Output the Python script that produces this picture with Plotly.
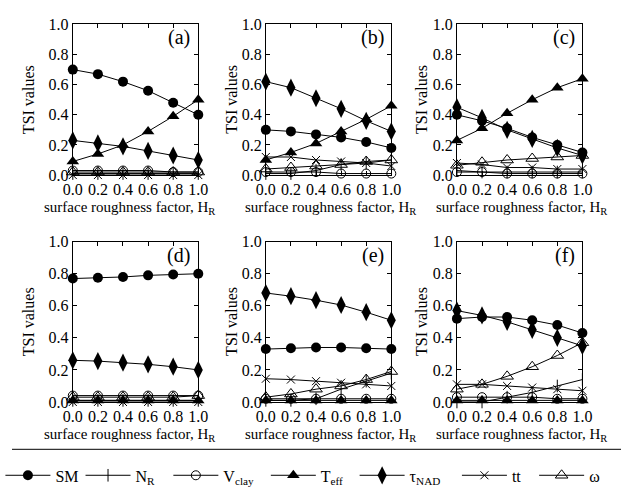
import plotly.graph_objects as go

# Surface roughness factor values (x axis, shared by every panel)
HR = [0.0, 0.2, 0.4, 0.6, 0.8, 1.0]

# Panel (a)
SM_a = [0.70, 0.67, 0.62, 0.56, 0.48, 0.40]
NR_a = [0.01, 0.01, 0.01, 0.01, 0.01, 0.01]
Vclay_a = [0.03, 0.03, 0.03, 0.03, 0.02, 0.02]
Teff_a = [0.09, 0.14, 0.20, 0.29, 0.39, 0.50]
tau_a = [0.23, 0.21, 0.19, 0.16, 0.13, 0.10]
tt_a = [0.00, 0.00, 0.00, 0.00, 0.00, 0.00]
omega_a = [0.02, 0.02, 0.02, 0.02, 0.02, 0.02]

# Panel (b)
SM_b = [0.30, 0.29, 0.27, 0.25, 0.22, 0.18]
NR_b = [0.01, 0.01, 0.03, 0.07, 0.08, 0.10]
Vclay_b = [0.02, 0.02, 0.02, 0.01, 0.01, 0.01]
Teff_b = [0.10, 0.15, 0.21, 0.29, 0.37, 0.46]
tau_b = [0.62, 0.58, 0.51, 0.44, 0.36, 0.29]
tt_b = [0.12, 0.12, 0.10, 0.09, 0.08, 0.06]
omega_b = [0.04, 0.05, 0.06, 0.07, 0.09, 0.10]

# Panel (c)
SM_c = [0.40, 0.36, 0.31, 0.25, 0.20, 0.15]
NR_c = [0.03, 0.02, 0.02, 0.02, 0.02, 0.02]
Vclay_c = [0.02, 0.02, 0.01, 0.01, 0.01, 0.01]
Teff_c = [0.23, 0.31, 0.41, 0.50, 0.58, 0.64]
tau_c = [0.45, 0.38, 0.30, 0.24, 0.18, 0.13]
tt_c = [0.08, 0.07, 0.05, 0.05, 0.04, 0.04]
omega_c = [0.065, 0.085, 0.10, 0.11, 0.12, 0.13]

# Panel (d)
SM_d = [0.77, 0.775, 0.78, 0.79, 0.795, 0.80]
NR_d = [0.01, 0.01, 0.01, 0.01, 0.01, 0.01]
Vclay_d = [0.04, 0.04, 0.04, 0.04, 0.04, 0.04]
Teff_d = [0.01, 0.01, 0.01, 0.01, 0.01, 0.01]
tau_d = [0.26, 0.255, 0.245, 0.235, 0.22, 0.20]
tt_d = [0.00, 0.00, 0.00, 0.00, 0.00, 0.00]
omega_d = [0.03, 0.03, 0.03, 0.03, 0.03, 0.04]

# Panel (e)
SM_e = [0.33, 0.335, 0.34, 0.34, 0.335, 0.33]
NR_e = [0.01, 0.01, 0.02, 0.08, 0.13, 0.18]
Vclay_e = [0.02, 0.02, 0.02, 0.02, 0.02, 0.02]
Teff_e = [0.01, 0.01, 0.01, 0.01, 0.01, 0.01]
tau_e = [0.68, 0.66, 0.635, 0.605, 0.56, 0.51]
tt_e = [0.145, 0.14, 0.13, 0.12, 0.11, 0.10]
omega_e = [0.03, 0.05, 0.08, 0.10, 0.14, 0.19]

# Panel (f)
SM_f = [0.52, 0.53, 0.53, 0.51, 0.48, 0.43]
NR_f = [0.00, 0.00, 0.03, 0.06, 0.10, 0.14]
Vclay_f = [0.03, 0.03, 0.03, 0.03, 0.02, 0.02]
Teff_f = [0.01, 0.01, 0.01, 0.01, 0.01, 0.01]
tau_f = [0.57, 0.54, 0.50, 0.45, 0.40, 0.35]
tt_f = [0.11, 0.11, 0.10, 0.09, 0.08, 0.07]
omega_f = [0.08, 0.11, 0.16, 0.22, 0.29, 0.37]

panel_labels = ["(a)", "(b)", "(c)", "(d)", "(e)", "(f)"]
series_names = ["SM", "N<sub>R</sub>", "V<sub>clay</sub>", "T<sub>eff</sub>",
                "τ<sub>NAD</sub>", "tt", "ω"]
y_ticks = [0.0, 0.2, 0.4, 0.6, 0.8, 1.0]
x_title = "surface roughness factor, H<sub>R</sub>"
y_title = "TSI values"

panels = [
    [SM_a, NR_a, Vclay_a, Teff_a, tau_a, tt_a, omega_a],
    [SM_b, NR_b, Vclay_b, Teff_b, tau_b, tt_b, omega_b],
    [SM_c, NR_c, Vclay_c, Teff_c, tau_c, tt_c, omega_c],
    [SM_d, NR_d, Vclay_d, Teff_d, tau_d, tt_d, omega_d],
    [SM_e, NR_e, Vclay_e, Teff_e, tau_e, tt_e, omega_e],
    [SM_f, NR_f, Vclay_f, Teff_f, tau_f, tt_f, omega_f],
]

# marker style per series
styles = [
    dict(symbol="circle", size=10, color="black"),
    dict(symbol="line-ns-open", size=9, color="black", line=dict(width=1, color="black")),
    dict(symbol="circle-open", size=9, color="black", line=dict(width=1, color="black")),
    dict(symbol="triangle-up", size=11, color="black"),
    dict(symbol="diamond-tall", size=13, color="black"),
    dict(symbol="x-thin-open", size=8, color="black", line=dict(width=1, color="black")),
    dict(symbol="triangle-up-open", size=11, color="black", line=dict(width=1, color="black")),
]

W, H = 631, 495
FONT = "Liberation Serif, Times New Roman, serif"


def px_x(v):
    return v / W


def px_y(v):
    return 1 - v / H


# axis boxes in pixels: (left, right) for columns, (top, bottom) for rows
cols = [(63, 193), (263, 393), (461, 591)]
rows = [(17, 173), (242, 408)]
ytitle_x = [17, 228, 425]
xtitle_x = [122, 330, 528]
xtitle_y = [207, 442]
# left edge of each legend entry along the bottom strip
legend_x = [-12, 71, 162, 263, 355, 461, 541]

fig = go.Figure()
annotations = []
for i, data in enumerate(panels):
    r, c = divmod(i, 3)
    n = i + 1
    xa = "x" if n == 1 else f"x{n}"
    ya = "y" if n == 1 else f"y{n}"
    for k, (vals, st) in enumerate(zip(data, styles)):
        fig.add_trace(go.Scatter(
            x=HR, y=vals, mode="lines+markers",
            name=series_names[k], legendgroup=series_names[k],
            legend="legend" if k == 0 else f"legend{k + 1}",
            showlegend=(i == 0),
            line=dict(color="black", width=1),
            marker=st, cliponaxis=False,
            xaxis=xa, yaxis=ya,
        ))
    l, rt = cols[c]
    t, b = rows[r]
    axis_common = dict(
        range=[0, 1], showline=True, linecolor="black", linewidth=1,
        mirror="ticks", ticks="inside", ticklen=4, tickcolor="black",
        showgrid=False, zeroline=False, tickvals=y_ticks, tickformat=".1f",
        tickfont=dict(family=FONT, size=16, color="black"),
    )
    fig.layout[f"xaxis{'' if n == 1 else n}"] = dict(
        axis_common, domain=[px_x(l), px_x(rt)], anchor=ya)
    fig.layout[f"yaxis{'' if n == 1 else n}"] = dict(
        axis_common, domain=[px_y(b), px_y(t)], anchor=xa)
    annotations.append(dict(
        text=panel_labels[i], xref="paper", yref="paper",
        x=px_x(rt - 6), y=px_y(t + 14), xanchor="right", yanchor="middle",
        showarrow=False, font=dict(family=FONT, size=20, color="black")))
    annotations.append(dict(
        text=y_title, xref="paper", yref="paper", textangle=-90,
        x=px_x(ytitle_x[c]), y=px_y((t + b) / 2), xanchor="center", yanchor="middle",
        showarrow=False, font=dict(family=FONT, size=16, color="black")))
    annotations.append(dict(
        text=x_title, xref="paper", yref="paper",
        x=px_x(xtitle_x[c]), y=px_y(xtitle_y[r]), xanchor="center", yanchor="middle",
        showarrow=False, font=dict(family=FONT, size=15, color="black")))

legend_base = dict(
    orientation="h", xanchor="left", y=px_y(484), yanchor="middle",
    font=dict(family=FONT, size=16, color="black"),
    bgcolor="rgba(0,0,0,0)", borderwidth=0, itemwidth=45,
)
for k, lx in enumerate(legend_x):
    key = "legend" if k == 0 else f"legend{k + 1}"
    fig.layout[key] = dict(legend_base, x=px_x(lx))

fig.update_layout(
    width=W, height=H,
    margin=dict(l=0, r=0, t=0, b=0),
    paper_bgcolor="white", plot_bgcolor="white",
    annotations=annotations,
    shapes=[dict(type="line", xref="paper", yref="paper",
                 x0=0, x1=1, y0=px_y(457), y1=px_y(457),
                 line=dict(color="black", width=1))],
    showlegend=True,
)

fig.write_html("out.html")
